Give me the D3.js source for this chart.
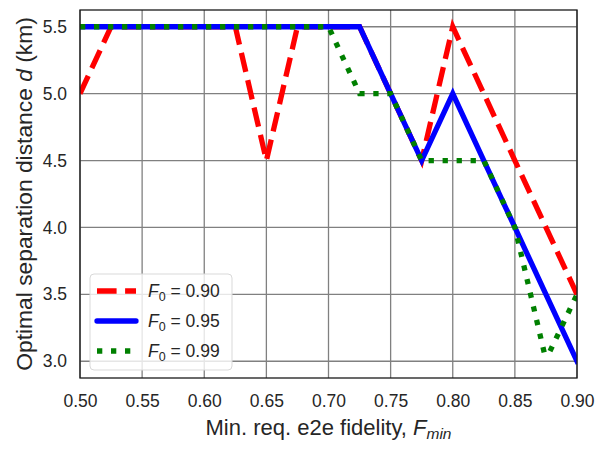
<!DOCTYPE html>
<html>
<head>
<meta charset="utf-8">
<script src="https://cdn.jsdelivr.net/npm/d3@7"></script>
<style>
  body { margin: 0; background: #fff; }
  svg { display: block; font-family: "Liberation Sans", Arial, sans-serif; }
</style>
</head>
<body>
<svg id="chart" width="604" height="451"></svg>
<script>
// values
const xGrid = [0.5, 0.525, 0.55, 0.575, 0.6, 0.625, 0.65, 0.675, 0.7, 0.725, 0.75, 0.775, 0.8, 0.825, 0.85, 0.875, 0.9];
const d090 = [5.0, 5.5, 5.5, 5.5, 5.5, 5.5, 4.5, 5.5, 5.5, 5.5, 5.0, 4.5, 5.5, 5.0, 4.5, 4.0, 3.5];
const d095 = [5.5, 5.5, 5.5, 5.5, 5.5, 5.5, 5.5, 5.5, 5.5, 5.5, 5.0, 4.5, 5.0, 4.5, 4.0, 3.5, 3.0];
const x099 = [0.5, 0.525, 0.55, 0.575, 0.6, 0.625, 0.65, 0.675, 0.7, 0.725, 0.75, 0.775, 0.8, 0.825, 0.85, 0.874, 0.878, 0.9];
const d099 = [5.5, 5.5, 5.5, 5.5, 5.5, 5.5, 5.5, 5.5, 5.5, 5.0, 5.0, 4.5, 4.5, 4.5, 4.0, 3.05, 3.07, 3.5];
const xTicks = [0.50, 0.55, 0.60, 0.65, 0.70, 0.75, 0.80, 0.85, 0.90];
const yTicks = [3.0, 3.5, 4.0, 4.5, 5.0, 5.5];
const labels = ["0.90", "0.95", "0.99"];

const series = [
  { x: xGrid, y: d090, color: "#ff0000", dash: "19.6,8.5", label: labels[0] },
  { x: xGrid, y: d095, color: "#0000ff", dash: null, label: labels[1] },
  { x: x099, y: d099, color: "#008000", dash: "5.3,8.7", label: labels[2] }
];

const svg = d3.select("#chart");
const mLeft = 80, mRight = 577, mTop = 10, mBottom = 378;

const x = d3.scaleLinear().domain([0.5, 0.9]).range([mLeft, mRight]);
const y = d3.scaleLinear().domain([2.875, 5.625]).range([mBottom, mTop]);

svg.append("defs").append("clipPath").attr("id", "clip")
  .append("rect")
  .attr("x", mLeft).attr("y", mTop)
  .attr("width", mRight - mLeft).attr("height", mBottom - mTop);

// grid lines
const grid = svg.append("g");
grid.selectAll(".gx").data(xTicks).enter().append("line")
  .attr("x1", d => x(d)).attr("x2", d => x(d))
  .attr("y1", mTop).attr("y2", mBottom)
  .attr("stroke", "#808080").attr("stroke-width", 1.3);
grid.selectAll(".gy").data(yTicks).enter().append("line")
  .attr("x1", mLeft).attr("x2", mRight)
  .attr("y1", d => y(d)).attr("y2", d => y(d))
  .attr("stroke", "#808080").attr("stroke-width", 1.3);

// the three curves
const line = d3.line();
const plot = svg.append("g").attr("clip-path", "url(#clip)");
series.forEach(s => {
  plot.append("path")
    .attr("d", line(s.x.map((v, i) => [x(v), y(s.y[i])])))
    .attr("fill", "none")
    .attr("stroke", s.color)
    .attr("stroke-width", 5.3)
    .attr("stroke-linejoin", "miter")
    .attr("stroke-linecap", s.dash ? "butt" : "square")
    .attr("stroke-dasharray", s.dash);
});

// frame
svg.append("rect")
  .attr("x", mLeft).attr("y", mTop)
  .attr("width", mRight - mLeft).attr("height", mBottom - mTop)
  .attr("fill", "none").attr("stroke", "#1a1a1a").attr("stroke-width", 1.3);

// axes
const xAxis = svg.append("g")
  .attr("transform", "translate(0," + mBottom + ")")
  .call(d3.axisBottom(x).tickValues(xTicks).tickSize(0).tickPadding(17).tickFormat(d3.format(".2f")));
const yAxis = svg.append("g")
  .attr("transform", "translate(" + mLeft + ",0)")
  .call(d3.axisLeft(y).tickValues(yTicks).tickSize(0).tickPadding(13).tickFormat(d3.format(".1f")));
[xAxis, yAxis].forEach(a => {
  a.select(".domain").remove();
  a.selectAll("text")
    .style("font-family", "'Liberation Sans', Arial, sans-serif")
    .style("font-size", "17.5px")
    .attr("fill", "#262626");
});

// axis titles
const xt = svg.append("text")
  .attr("x", (mLeft + mRight) / 2).attr("y", 435)
  .attr("text-anchor", "middle")
  .style("font-size", "22px").attr("fill", "#262626");
xt.append("tspan").text("Min. req. e2e fidelity, ");
xt.append("tspan").style("font-style", "italic").text("F");
xt.append("tspan").style("font-style", "italic").style("font-size", "15.5px").attr("dy", 4).text("min");

const yt = svg.append("text")
  .attr("transform", "translate(31.5," + (mTop + mBottom) / 2 + ") rotate(-90)")
  .attr("text-anchor", "middle")
  .style("font-size", "22.8px").attr("fill", "#262626");
yt.append("tspan").text("Optimal separation distance ");
yt.append("tspan").style("font-style", "italic").text("d");
yt.append("tspan").text(" (km)");

// legend
const lg = svg.append("g");
lg.append("rect")
  .attr("x", 90).attr("y", 274).attr("width", 142).attr("height", 96)
  .attr("rx", 4).attr("fill", "#ffffff").attr("fill-opacity", 0.8)
  .attr("stroke", "#d9d9d9").attr("stroke-width", 1);
series.forEach((s, i) => {
  const yy = 291 + i * 30;
  lg.append("line")
    .attr("x1", 97).attr("x2", 136).attr("y1", yy).attr("y2", yy)
    .attr("stroke", s.color).attr("stroke-width", 5.3)
    .attr("stroke-linecap", s.dash ? "butt" : "round")
    .attr("stroke-dasharray", s.dash);
  const t = lg.append("text")
    .attr("x", 148).attr("y", yy + 6)
    .style("font-size", "17.5px").attr("fill", "#262626");
  t.append("tspan").style("font-style", "italic").text("F");
  t.append("tspan").style("font-size", "12.5px").attr("dy", 4).text("0");
  t.append("tspan").attr("dy", -4).text(" = " + s.label);
});
</script>
</body>
</html>
